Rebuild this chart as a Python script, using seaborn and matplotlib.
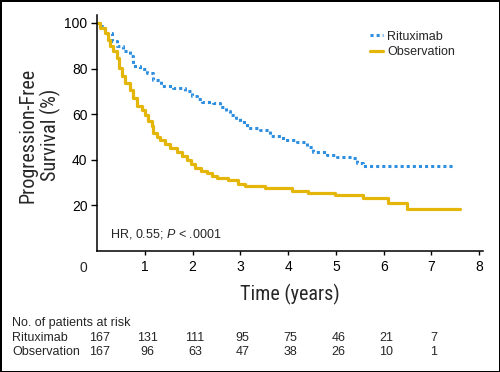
import numpy as np
import pandas as pd
import seaborn as sns
import matplotlib.pyplot as plt
import matplotlib.font_manager as fm
from matplotlib import transforms

# Kaplan-Meier curves (years, % progression-free)
ritux_time = [0, 0.06, 0.17, 0.31, 0.41, 0.55, 0.69, 0.76, 0.9, 1.04, 1.18, 1.35, 1.6,
              1.84, 1.98, 2.1, 2.2, 2.43, 2.58, 2.7, 2.79, 2.9, 3.0, 3.14, 3.41, 3.62,
              3.9, 4.19, 4.4, 4.52, 4.82, 5.03, 5.34, 5.44, 5.57, 7.5]
ritux_surv = [100, 98.5, 95.6, 92, 89.8, 87.6, 85.4, 81, 79.6, 78.1, 75.2, 72.3, 71.5,
              70, 67.9, 66.5, 65.2, 65, 63.3, 61.5, 59.8, 58.2, 56.7, 54, 53.2, 50.5,
              48.8, 47.9, 45.7, 43.5, 42.2, 41.3, 40.9, 38.7, 37.4, 37.4]

obs_time = [0, 0.06, 0.17, 0.24, 0.27, 0.34, 0.41, 0.46, 0.52, 0.59, 0.69, 0.76, 0.83,
            0.94, 1.0, 1.07, 1.15, 1.18, 1.25, 1.32, 1.42, 1.53, 1.67, 1.78, 1.88, 1.96,
            2.05, 2.18, 2.3, 2.4, 2.51, 2.75, 2.95, 3.1, 3.52, 4.08, 4.42, 4.98, 5.57,
            6.1, 6.49, 7.6]
obs_surv = [100, 98, 95.6, 92.7, 90, 87.6, 84.6, 80.3, 76.6, 73.7, 70.8, 67.2, 63.4,
            62, 59.5, 57, 55, 51.7, 50.2, 48.8, 47, 45.1, 43.6, 41.8, 40, 38.2,
            36.3, 35.2, 34.1, 33, 31.9, 31.2, 29.6, 28.3, 27.6, 26.5, 25.6, 24.6, 23.4,
            21.2, 18.3, 18.3]

# numbers at risk
risk_years = [0, 1, 2, 3, 4, 5, 6, 7]
risk_ritux = [167, 131, 111, 95, 75, 46, 21, 7]
risk_obs = [167, 96, 63, 47, 38, 26, 10, 1]

x_ticks = [1, 2, 3, 4, 5, 6, 7, 8]
y_ticks = [20, 40, 60, 80, 100]

blue = '#2f8fdf'
gold = '#e4b60a'

sns.set_style('ticks')
plt.rcParams['font.family'] = ['Liberation Sans', 'DejaVu Sans']
plt.rcParams['mathtext.fontset'] = 'custom'
plt.rcParams['mathtext.rm'] = 'Liberation Sans'
plt.rcParams['mathtext.it'] = 'Liberation Sans:italic'

# axis titles are set in a condensed face in the original
installed = {f.name for f in fm.fontManager.ttflist}
label_font, label_size = 'Liberation Sans', 13
for cand in ['Liberation Sans Narrow', 'Roboto Condensed', 'Noto Sans Condensed',
             'Open Sans Condensed']:
    if cand in installed:
        label_font, label_size = cand, 14.5
        break

rit = pd.DataFrame({'time': ritux_time, 'surv': ritux_surv})
obs = pd.DataFrame({'time': obs_time, 'surv': obs_surv})

fig = plt.figure(figsize=(5, 3.72), dpi=100, linewidth=2, edgecolor='black')
ax = fig.add_axes([97 / 500, 121 / 372, 386 / 500, 236 / 372])

sns.lineplot(data=rit, x='time', y='surv', ax=ax, color=blue, lw=2.2,
             linestyle=(0, (1, 1)), drawstyle='steps-post', label='Rituximab',
             estimator=None, sort=False)
sns.lineplot(data=obs, x='time', y='surv', ax=ax, color=gold, lw=2.3,
             drawstyle='steps-post', label='Observation',
             estimator=None, sort=False)

ax.set_xlim(0, 8.08)
ax.set_ylim(0, 103.5)
ax.set_xticks(x_ticks)
ax.set_yticks(y_ticks)
ax.set_xlabel('')
ax.set_ylabel('')
sns.despine(ax=ax)
for s in ['left', 'bottom']:
    ax.spines[s].set_linewidth(1.1)
    ax.spines[s].set_color('black')
ax.tick_params(axis='both', direction='out', width=1.0, color='black',
               labelsize=10, labelcolor='black')
ax.tick_params(axis='x', length=3, pad=3.5)
ax.tick_params(axis='y', length=4.3, pad=2.5)
ax.annotate('0', xy=(-0.29, 0), xytext=(0, -7), textcoords='offset points',
            ha='center', va='top', fontsize=10, annotation_clip=False)

ax.text(0.27, 7.5, 'HR, 0.55; $\\it{P}$ < .0001', fontsize=9, ha='left', va='center')

ax.legend(loc='upper left', bbox_to_anchor=(370 / 500, 1 - 30.5 / 372),
          bbox_transform=fig.transFigure, frameon=False, fontsize=9,
          handlelength=1.0, handletextpad=0.4, labelspacing=0.28,
          borderpad=0, borderaxespad=0)

fig.text(289.5 / 500, 1 - 294 / 372, 'Time (years)', family=label_font,
         fontsize=label_size, ha='center', va='center')
fig.text(39.5 / 500, 1 - 135 / 372, 'Progression-Free\nSurvival (%)', family=label_font,
         fontsize=label_size, ha='center', va='center', rotation=90,
         multialignment='center', linespacing=1.15)

# numbers at risk table
fig.text(12 / 500, 1 - 323 / 372, 'No. of patients at risk', fontsize=9, va='center')
fig.text(12 / 500, 1 - 338 / 372, 'Rituximab', fontsize=9, va='center')
fig.text(12 / 500, 1 - 352 / 372, 'Observation', fontsize=9, va='center')
tr = transforms.blended_transform_factory(ax.transData, fig.transFigure)
for yr, r, o in zip(risk_years, risk_ritux, risk_obs):
    ax.text(yr + 0.05, 1 - 338 / 372, str(r), transform=tr, fontsize=9,
            ha='center', va='center', clip_on=False)
    ax.text(yr + 0.05, 1 - 352 / 372, str(o), transform=tr, fontsize=9,
            ha='center', va='center', clip_on=False)

fig.savefig('out.png', dpi=100, edgecolor=fig.get_edgecolor())
